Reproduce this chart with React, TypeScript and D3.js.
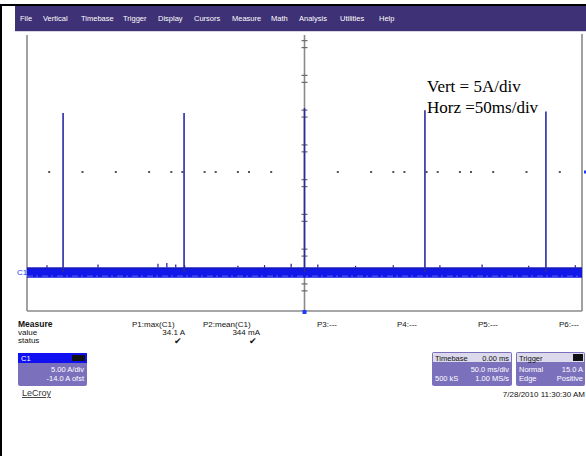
import React from "react";
import * as d3 from "d3";

// scope settings
const timeSpan = [0, 500]; // ms, 50 ms/div x 10
const ampRange = [-5.6, 34.4]; // A, 5 A/div x 8
const ampsPerDiv = 5;

const menuItems = ["File", "Vertical", "Timebase", "Trigger", "Display", "Cursors", "Measure", "Math", "Analysis", "Utilities", "Help"];
const menuX = [20, 43, 81, 123, 158, 194, 232, 271, 299, 340, 379];

// current pulses (ms, A)
const pulseTimes = [32.5, 141.5, 250, 358.5, 467.5];
const pulsePeaks = [22.9, 22.9, 23.6, 23.3, 23.1];

// baseline noise band (A) and the spikes that stick out of it
const noiseHi = 0.65;
const noiseLo = -0.8;
const spikeTimes = [18, 64, 118, 126, 134, 142, 190, 214, 238, 262, 296, 330, 372, 410, 452, 494];
const spikeVals = [1.0, 1.1, 1.2, 1.3, 1.1, 1.0, 0.9, 1.0, 1.2, 1.1, 0.9, 1.0, 1.0, 1.1, 0.9, 1.0];

// leftovers of the dotted center graticule line (ms)
const dotTimes = [20, 50, 80, 110, 130, 140, 160, 170, 190, 200, 220, 280, 310, 330, 340, 360, 370, 390, 400, 420, 450, 480];
const axisTickOffsets = [0.22, 0.42]; // div, below each division

const measureHeads = ["P1:max(C1)", "P2:mean(C1)", "P3:---", "P4:---", "P5:---", "P6:---"];
const measureX = [132, 203, 317, 397, 478, 559];
const measureValues = ["34.1 A", "344 mA"];
const measureValueX = [185, 260];

const font = "'Liberation Sans', Arial, sans-serif";

export default function App() {
  const W = 586, H = 456;
  const x = d3.scaleLinear().domain(timeSpan).range([27, 582]);
  const y = d3.scaleLinear().domain(ampRange).range([311, 33]);
  const nDiv = Math.round((ampRange[1] - ampRange[0]) / ampsPerDiv);

  const band = d3.area<number>()
    .x((t) => x(t))
    .y0(y(noiseLo))
    .y1(y(noiseHi));

  const axisTicks = d3.range(nDiv).flatMap((k) =>
    axisTickOffsets.map((o) => ampRange[1] - ampsPerDiv * (k + o))
  );

  const xc = x((timeSpan[0] + timeSpan[1]) / 2);
  const yc = y((ampRange[0] + ampRange[1]) / 2);

  return (
    <svg width={W} height={H} style={{ position: "absolute", left: 0, top: 0, background: "#fff" }}>
      {/* page frame */}
      <line x1={1} x2={1} y1={4} y2={H} stroke="#000" strokeWidth={2} />
      <line x1={0} x2={W} y1={5} y2={5} stroke="#000" strokeWidth={2} />

      {/* menu bar */}
      <rect x={15} y={6} width={W - 15} height={25} fill="#3e3175" />
      <line x1={15} x2={W} y1={31.5} y2={31.5} stroke="#d8d6e4" strokeWidth={1} />
      {menuItems.map((m, i) => (
        <text key={m} x={menuX[i]} y={21} fontFamily={font} fontSize={7.5} fill="#fff">{m}</text>
      ))}

      {/* graticule frame */}
      <g stroke="#8a8a8a" strokeWidth={1.6} fill="none">
        <line x1={x(timeSpan[0])} x2={x(timeSpan[0])} y1={y(ampRange[1]) + 2} y2={y(ampRange[0])} />
        <line x1={x(timeSpan[1])} x2={x(timeSpan[1])} y1={y(ampRange[1]) + 1} y2={y(ampRange[0])} />
        <line x1={x(timeSpan[0])} x2={x(timeSpan[1])} y1={y(ampRange[0])} y2={y(ampRange[0])} />
        <line x1={xc} x2={xc} y1={y(ampRange[1]) + 2} y2={y(ampRange[0])} />
      </g>
      {axisTicks.map((a, i) => (
        <line key={i} x1={xc - 3} x2={xc + 3} y1={y(a)} y2={y(a)} stroke="#6a6a6a" strokeWidth={1.2} />
      ))}
      {dotTimes.map((t) => (
        <rect key={t} x={x(t) - 1} y={yc - 1} width={2} height={2} fill="#555" />
      ))}

      {/* trace */}
      <path d={band(timeSpan) ?? ""} fill="#1218e8" />
      <line x1={x(timeSpan[0])} x2={x(timeSpan[1])} y1={y(noiseHi) + 0.5} y2={y(noiseHi) + 0.5} stroke="#1a1a9c" strokeWidth={1} />
      <line x1={x(timeSpan[0])} x2={x(timeSpan[1])} y1={y(noiseLo) - 1.5} y2={y(noiseLo) - 1.5} stroke="#6f78f0" strokeWidth={0.8} strokeDasharray="6 3 2 4" />
      {spikeTimes.map((t, i) => (
        <line key={t} x1={x(t)} x2={x(t)} y1={y(noiseHi)} y2={y(spikeVals[i])} stroke="#1a1a9c" strokeWidth={1.2} />
      ))}
      {pulseTimes.map((t, i) => (
        <line key={t} x1={x(t)} x2={x(t)} y1={y(0)} y2={y(pulsePeaks[i])} stroke="#2a2aa4" strokeWidth={1.6} />
      ))}

      {/* channel / trigger markers */}
      <text x={17} y={y(0) + 3} fontFamily={font} fontSize={8} fill="#1a3cff">C1</text>
      <rect x={xc - 2} y={y(ampRange[0]) - 1} width={4} height={4} fill="#1a3cff" />
      <rect x={W - 2} y={yc - 1.5} width={2} height={3} fill="#1a3cff" />

      {/* annotation */}
      <text x={427} y={92} fontFamily="'Liberation Serif', 'Times New Roman', serif" fontSize={17} fill="#000">Vert = 5A/div</text>
      <text x={427} y={113} fontFamily="'Liberation Serif', 'Times New Roman', serif" fontSize={17} fill="#000">Horz =50ms/div</text>

      {/* measurements */}
      <g fontFamily={font} fontSize={8} fill="#111">
        <text x={18} y={327} fontWeight="bold" fontSize={8.5}>Measure</text>
        <text x={18} y={335}>value</text>
        <text x={18} y={343}>status</text>
        {measureHeads.map((m, i) => (
          <text key={m} x={measureX[i]} y={327}>{m}</text>
        ))}
        {measureValues.map((v, i) => (
          <text key={v} x={measureValueX[i]} y={335} textAnchor="end">{v}</text>
        ))}
        {measureValueX.map((vx) => (
          <text key={vx} x={vx - 3} y={344} textAnchor="end" fontSize={8.5}>✔</text>
        ))}
      </g>

      {/* C1 box */}
      <g fontFamily={font} fontSize={7.5} fill="#fff">
        <rect x={18} y={353} width={69} height={33} rx={2} fill="#7b70bc" />
        <rect x={18} y={353} width={69} height={10} fill="#1010f0" />
        <text x={21} y={361}>C1</text>
        <rect x={72} y={355} width={13} height={6} fill="#111" />
        <text x={84} y={372} textAnchor="end">5.00 A/div</text>
        <text x={84} y={381} textAnchor="end">-14.0 A ofst</text>
      </g>
      <text x={22} y={396} fontFamily={font} fontSize={9} fill="#333" textDecoration="underline">LeCroy</text>

      {/* timebase box */}
      <g fontFamily={font} fontSize={7.5}>
        <rect x={432} y={352} width={80} height={34} rx={2} fill="#7b70bc" />
        <rect x={433} y={353} width={78} height={9} fill="#dcd9ec" />
        <text x={435} y={360.5} fill="#111">Timebase</text>
        <text x={509} y={360.5} fill="#111" textAnchor="end">0.00 ms</text>
        <text x={509} y={372} fill="#fff" textAnchor="end">50.0 ms/div</text>
        <text x={435} y={381} fill="#fff">500 kS</text>
        <text x={509} y={381} fill="#fff" textAnchor="end">1.00 MS/s</text>
      </g>

      {/* trigger box */}
      <g fontFamily={font} fontSize={7.5}>
        <rect x={516} y={352} width={69} height={34} rx={2} fill="#7b70bc" />
        <rect x={517} y={353} width={67} height={9} fill="#dcd9ec" />
        <text x={519} y={360.5} fill="#111">Trigger</text>
        <rect x={573} y={354} width={10} height={7} fill="#111" />
        <text x={519} y={372} fill="#fff">Normal</text>
        <text x={583} y={372} fill="#fff" textAnchor="end">15.0 A</text>
        <text x={519} y={381} fill="#fff">Edge</text>
        <text x={583} y={381} fill="#fff" textAnchor="end">Positive</text>
      </g>
      <text x={585} y={397} fontFamily={font} fontSize={8} fill="#111" textAnchor="end">7/28/2010 11:30:30 AM</text>
    </svg>
  );
}
